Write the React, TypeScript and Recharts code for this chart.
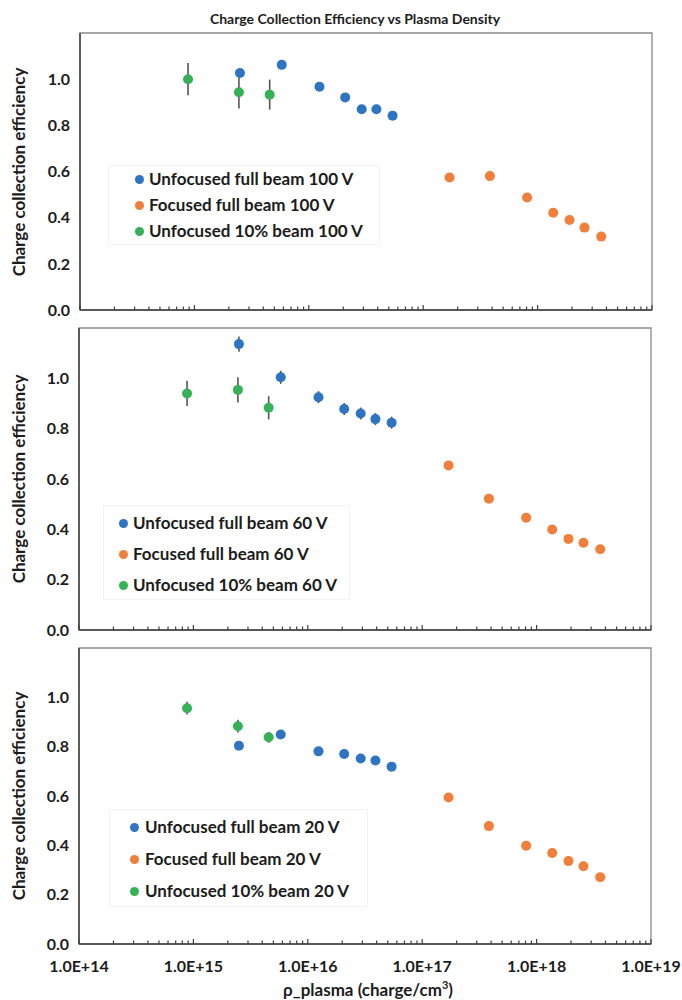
import React from 'react';
import { ScatterChart, Scatter, XAxis, YAxis, ErrorBar, ReferenceArea } from 'recharts';

// axis ticks
const decadeTicks = [1e14, 1e15, 1e16, 1e17, 1e18, 1e19];
const minorSteps = [2, 3, 4, 5, 6, 7, 8, 9];
const yTicks = [0, 0.2, 0.4, 0.6, 0.8, 1.0];

// plasma densities (charge/cm3), shared by the three panels
const greenDensity = [8.8e14, 2.45e15, 4.55e15];
const blueDensity = [2.5e15, 5.8e15, 1.24e16, 2.08e16, 2.9e16, 3.9e16, 5.4e16];
const orangeDensity = [1.7e17, 3.83e17, 8.1e17, 1.37e18, 1.9e18, 2.57e18, 3.6e18];

// 100 V
const blue100 = [1.027, 1.062, 0.967, 0.921, 0.87, 0.87, 0.842];
const orange100 = [0.574, 0.58, 0.487, 0.421, 0.39, 0.357, 0.318];
const green100 = [1.0, 0.943, 0.933];
const green100Err = [0.07, 0.07, 0.065];

// 60 V
const blue60 = [1.136, 1.004, 0.925, 0.878, 0.86, 0.838, 0.824];
const blue60Err = [0.03, 0.026, 0.024, 0.024, 0.024, 0.024, 0.024];
const orange60 = [0.654, 0.522, 0.446, 0.399, 0.362, 0.347, 0.321];
const green60 = [0.94, 0.954, 0.883];
const green60Err = [0.05, 0.05, 0.046];

// 20 V
const blue20 = [0.804, 0.849, 0.781, 0.77, 0.752, 0.744, 0.719];
const orange20 = [0.594, 0.478, 0.398, 0.369, 0.336, 0.315, 0.271];
const green20 = [0.956, 0.883, 0.838];
const green20Err = [0.026, 0.026, 0.022];

const BLUE = '#2f74c0';
const ORANGE = '#ef7f3a';
const GREEN = '#36b157';
const FONT = 'Lato, "Open Sans", sans-serif';
const TEXT = '#1c1c1c';

const xTicks = [
  ...decadeTicks.slice(0, -1).flatMap(d => [d, ...minorSteps.map(m => m * d)]),
  decadeTicks[decadeTicks.length - 1],
];

const toPoints = (xs: number[], ys: number[], errs?: number[]) =>
  xs.map((x, i) => ({ x, y: ys[i], err: errs ? errs[i] : 0 }));

const dot = (color: string) => (p: any) => <circle cx={p.cx} cy={p.cy} r={5} fill={color} />;

const XTick = (props: any) => {
  const { x, y, payload, showLabels } = props;
  const v = payload.value;
  const isMajor = decadeTicks.some(d => Math.abs(v / d - 1) < 1e-6);
  return (
    <g>
      <line x1={x} x2={x} y1={y} y2={y - (isMajor ? 5 : 3.5)} stroke="#3f3f3f" strokeWidth={1.2} />
      {showLabels && isMajor && (
        <text x={x} y={y + 28} textAnchor="middle" fontFamily={FONT} fontWeight={700} fontSize={16} fill={TEXT}>
          {v.toExponential(1).toUpperCase()}
        </text>
      )}
    </g>
  );
};

interface LegendBox { left: number; top: number; width: number; height: number; rows: number[]; markerX: number; textX: number }

const PanelLegend = ({ box, labels }: { box: LegendBox; labels: { text: string; color: string }[] }) => (
  <div style={{ position: 'absolute', left: box.left, top: box.top, width: box.width, height: box.height, border: '1px solid #f3f3f3', boxSizing: 'border-box' }}>
    {labels.map((l, i) => (
      <div key={l.text} style={{ position: 'absolute', left: 0, top: box.rows[i] - box.top - 12, height: 24, width: box.width }}>
        <div style={{ position: 'absolute', left: box.markerX - box.left - 4.5, top: 7.5, width: 9, height: 9, borderRadius: '50%', background: l.color }} />
        <div style={{ position: 'absolute', left: box.textX - box.left, top: 0, lineHeight: '24px', fontFamily: FONT, fontWeight: 700, fontSize: 17, color: TEXT, whiteSpace: 'nowrap' }}>{l.text}</div>
      </div>
    ))}
  </div>
);

interface PanelProps {
  top: number; height: number; plotTop: number; plotBottom: number; plotLeft: number; plotRight: number;
  blue: any[]; orange: any[]; green: any[]; voltage: string; legend: LegendBox; showLabels?: boolean;
}

const Panel = ({ top, height, plotTop, plotBottom, plotLeft, plotRight, blue, orange, green, voltage, legend, showLabels }: PanelProps) => {
  const axisH = showLabels ? 40 : 6;
  const margin = { top: plotTop - top, bottom: top + height - plotBottom - axisH, left: plotLeft - 70, right: 682 - plotRight };
  const labels = [
    { text: `Unfocused full beam ${voltage}`, color: BLUE },
    { text: `Focused full beam ${voltage}`, color: ORANGE },
    { text: `Unfocused 10% beam ${voltage}`, color: GREEN },
  ];
  return (
    <>
      <div style={{ position: 'absolute', left: 0, top, width: 682, height }}>
        <ScatterChart width={682} height={height} margin={margin}>
          <ReferenceArea x1={1e14} x2={1e19} y1={0} y2={1.2} fill="none" stroke="#8a8a8a" strokeWidth={1.3} ifOverflow="visible" />
          <XAxis
            type="number" dataKey="x" scale="log" domain={[1e14, 1e19]} allowDataOverflow
            ticks={xTicks} interval={0} tickSize={0} tickMargin={0} tickLine={false} height={axisH}
            axisLine={{ stroke: '#3f3f3f', strokeWidth: 1.5 }}
            tick={(p: any) => <XTick {...p} showLabels={showLabels} />}
          />
          <YAxis
            type="number" dataKey="y" domain={[0, 1.2]} allowDataOverflow ticks={yTicks} width={70}
            tickSize={0} tickMargin={10} tickLine={false} axisLine={{ stroke: '#3f3f3f', strokeWidth: 1.5 }}
            tickFormatter={(v: number) => v.toFixed(1)}
            tick={{ fontFamily: FONT, fontWeight: 700, fontSize: 16, fill: TEXT }}
          />
          <Scatter data={green} fill={GREEN} shape={dot(GREEN)} isAnimationActive={false}>
            <ErrorBar dataKey="err" direction="y" width={0} stroke="#555555" strokeWidth={1.6} />
          </Scatter>
          <Scatter data={blue} fill={BLUE} shape={dot(BLUE)} isAnimationActive={false}>
            <ErrorBar dataKey="err" direction="y" width={0} stroke="#555555" strokeWidth={1.6} />
          </Scatter>
          <Scatter data={orange} fill={ORANGE} shape={dot(ORANGE)} isAnimationActive={false} />
        </ScatterChart>
      </div>
      <PanelLegend box={legend} labels={labels} />
      <div style={{
        position: 'absolute', left: 18, top: (plotTop + plotBottom) / 2, transform: 'translate(-50%, -50%) rotate(-90deg)',
        fontFamily: FONT, fontWeight: 700, fontSize: 17, color: TEXT, whiteSpace: 'nowrap',
      }}>
        Charge collection efficiency
      </div>
    </>
  );
};

export default function App() {
  return (
    <div style={{ position: 'absolute', left: 0, top: 0, width: 682, height: 1000, background: '#fff', overflow: 'hidden' }}>
      <div style={{ position: 'absolute', left: 355, top: 18, transform: 'translate(-50%, -50%)', fontFamily: FONT, fontWeight: 700, fontSize: 14, color: TEXT, whiteSpace: 'nowrap' }}>
        Charge Collection Efficiency vs Plasma Density
      </div>
      <Panel
        top={0} height={320} plotTop={33} plotBottom={310} plotLeft={80} plotRight={652}
        blue={toPoints(blueDensity, blue100)} orange={toPoints(orangeDensity, orange100)}
        green={toPoints(greenDensity, green100, green100Err)} voltage="100 V"
        legend={{ left: 108, top: 165, width: 272, height: 80, rows: [178, 204, 230], markerX: 138, textX: 148 }}
      />
      <Panel
        top={320} height={320} plotTop={328} plotBottom={630} plotLeft={79} plotRight={651}
        blue={toPoints(blueDensity, blue60, blue60Err)} orange={toPoints(orangeDensity, orange60)}
        green={toPoints(greenDensity, green60, green60Err)} voltage="60 V"
        legend={{ left: 103, top: 505, width: 247, height: 95, rows: [522, 553, 584], markerX: 122, textX: 132 }}
      />
      <Panel
        top={640} height={360} plotTop={648} plotBottom={944} plotLeft={79} plotRight={651}
        blue={toPoints(blueDensity, blue20)} orange={toPoints(orangeDensity, orange20)}
        green={toPoints(greenDensity, green20, green20Err)} voltage="20 V"
        legend={{ left: 109, top: 809, width: 259, height: 98, rows: [826, 858, 890], markerX: 133, textX: 144 }}
        showLabels
      />
      <div style={{ position: 'absolute', left: 368, top: 989, transform: 'translate(-50%, -50%)', fontFamily: FONT, fontWeight: 700, fontSize: 17, color: TEXT, whiteSpace: 'nowrap' }}>
        ρ_plasma (charge/cm<sup style={{ fontSize: 11 }}>3</sup>)
      </div>
    </div>
  );
}
